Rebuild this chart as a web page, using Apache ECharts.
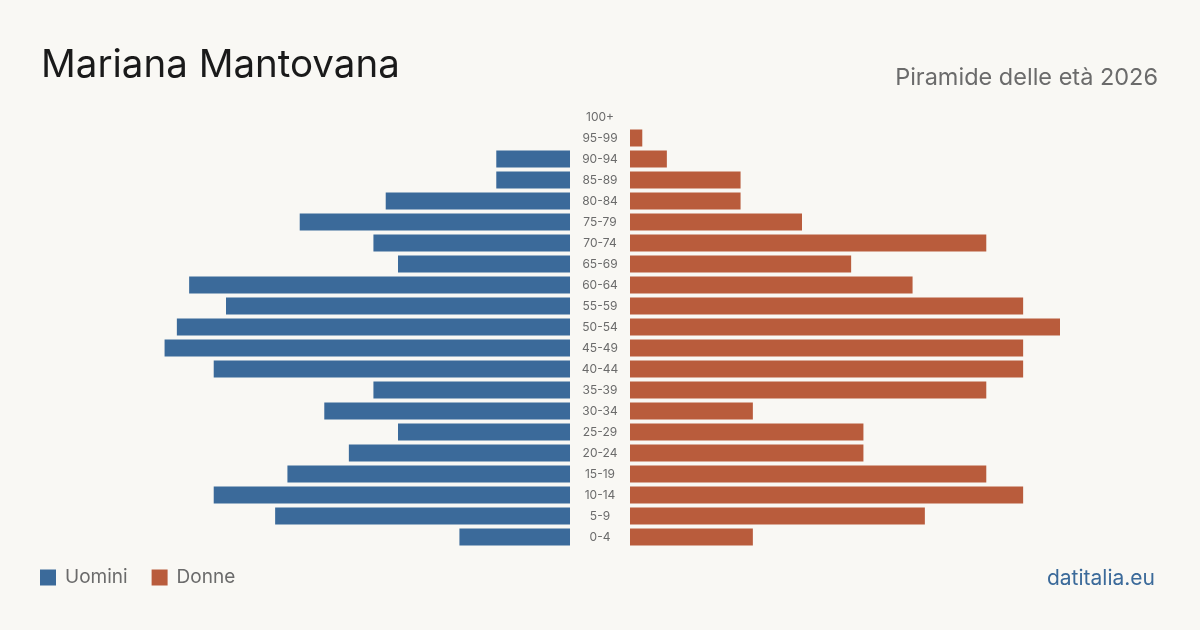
<!DOCTYPE html>
<html lang="it">
<head>
<meta charset="UTF-8">
<title>Mariana Mantovana - Piramide delle età 2026</title>
<script src="https://cdn.jsdelivr.net/npm/echarts@6/dist/echarts.min.js"></script>
<style>
  html, body { margin: 0; padding: 0; background: #f9f8f4; }
  #chart { width: 1200px; height: 630px; }
</style>
</head>
<body>
<div id="chart"></div>
<script>
// fasce d'età, dall'alto verso il basso
const ageGroups = ['100+', '95-99', '90-94', '85-89', '80-84', '75-79', '70-74', '65-69', '60-64',
  '55-59', '50-54', '45-49', '40-44', '35-39', '30-34', '25-29', '20-24', '15-19', '10-14', '5-9', '0-4'];
const uomini = [0, 0, 6, 6, 15, 22, 16, 14, 31, 28, 32, 33, 29, 16, 20, 14, 18, 23, 29, 24, 9];
const donne  = [0, 1, 3, 9, 9, 14, 29, 18, 23, 32, 35, 32, 32, 29, 10, 19, 19, 29, 32, 24, 10];

const BLUE = '#3b6a9a';
const ORANGE = '#b95c3c';
const FONT = 'Inter, "Noto Sans", sans-serif';
const maxVal = 35;

const chart = echarts.init(document.getElementById('chart'));

chart.setOption({
  backgroundColor: '#f9f8f4',
  animation: false,
  title: [
    { text: 'Mariana Mantovana', left: 36, top: 41,
      textStyle: { fontFamily: FONT, fontSize: 38.5, fontWeight: 'normal', color: '#1a1a1a' } },
    { text: 'Piramide delle età 2026', right: 37, top: 61,
      textStyle: { fontFamily: FONT, fontSize: 23.5, fontWeight: 'normal', color: '#6b6b6b' } },
    { text: 'datitalia.eu', right: 40, top: 563,
      textStyle: { fontFamily: FONT, fontSize: 21, fontWeight: 'normal', color: '#3b6a9a' } }
  ],
  legend: {
    left: 35, top: 563,
    icon: 'rect', itemWidth: 16, itemHeight: 16, itemGap: 24,
    textStyle: { fontFamily: FONT, fontSize: 19, color: '#6b6b6b', padding: [0, 0, 0, 4] },
    data: ['Uomini', 'Donne']
  },
  grid: [
    { left: 140, width: 430, top: 106.5, height: 441 },
    { left: 630, width: 430, top: 106.5, height: 441 }
  ],
  xAxis: [
    { gridIndex: 0, type: 'value', min: 0, max: maxVal, inverse: true, show: false },
    { gridIndex: 1, type: 'value', min: 0, max: maxVal, show: false }
  ],
  yAxis: [
    { gridIndex: 0, type: 'category', data: ageGroups, inverse: true, position: 'right',
      axisLine: { show: false }, axisTick: { show: false },
      axisLabel: { margin: 30, align: 'center', fontFamily: FONT, fontSize: 12, color: '#6b6b6b' } },
    { gridIndex: 1, type: 'category', data: ageGroups, inverse: true, show: false }
  ],
  series: [
    { name: 'Uomini', type: 'bar', xAxisIndex: 0, yAxisIndex: 0, data: uomini,
      barWidth: 17, itemStyle: { color: BLUE } },
    { name: 'Donne', type: 'bar', xAxisIndex: 1, yAxisIndex: 1, data: donne,
      barWidth: 17, itemStyle: { color: ORANGE } }
  ]
});
</script>
</body>
</html>
